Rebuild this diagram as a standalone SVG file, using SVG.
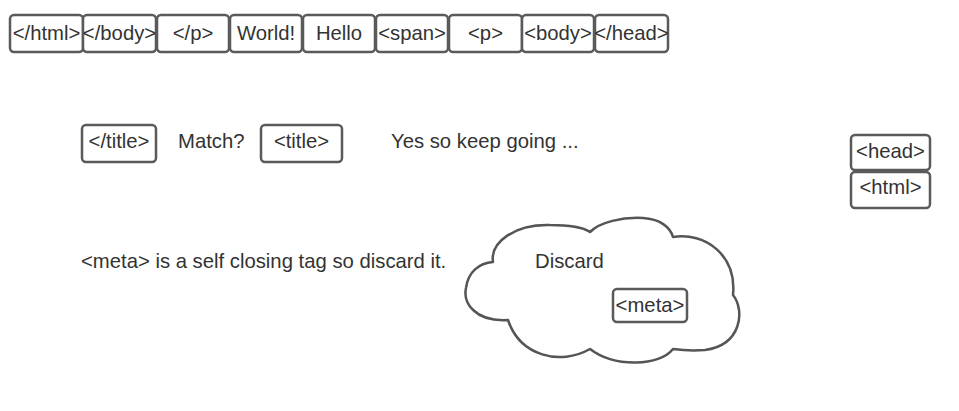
<svg xmlns="http://www.w3.org/2000/svg" width="959" height="411" viewBox="0 0 959 411">
<style>
.box{fill:#fff;stroke:#5a5a5a;stroke-width:2.5;}
.t{font-family:"Liberation Sans",Arial,sans-serif;font-size:20.3px;fill:#333;}
.c{text-anchor:middle;}
.cloud{fill:#fff;stroke:#555;stroke-width:2.5;stroke-linejoin:round;}
</style>
<rect width="959" height="411" fill="#fff"/>
<g id="stack-top">
<g id="n1"><rect class="box" x="10" y="15" width="73" height="37" rx="4"/><text class="t c" x="46.5" y="40">&lt;/html&gt;</text></g>
<g id="n2"><rect class="box" x="83" y="15" width="73" height="37" rx="4"/><text class="t c" x="119.5" y="40">&lt;/body&gt;</text></g>
<g id="n3"><rect class="box" x="157" y="15" width="72" height="37" rx="4"/><text class="t c" x="193" y="40">&lt;/p&gt;</text></g>
<g id="n4"><rect class="box" x="230" y="15" width="72" height="37" rx="4"/><text class="t c" x="266" y="40">World!</text></g>
<g id="n5"><rect class="box" x="303" y="15" width="72" height="37" rx="4"/><text class="t c" x="339" y="40">Hello</text></g>
<g id="n6"><rect class="box" x="376" y="15" width="72" height="37" rx="4"/><text class="t c" x="412" y="40">&lt;span&gt;</text></g>
<g id="n7"><rect class="box" x="449" y="15" width="73" height="37" rx="4"/><text class="t c" x="485.5" y="40">&lt;p&gt;</text></g>
<g id="n8"><rect class="box" x="522" y="15" width="72" height="37" rx="4"/><text class="t c" x="558" y="40">&lt;body&gt;</text></g>
<g id="n9"><rect class="box" x="595" y="15" width="73" height="37" rx="4"/><text class="t c" x="631.5" y="40">&lt;/head&gt;</text></g>
</g>
<g id="close-title"><rect class="box" x="82" y="125" width="74" height="37" rx="4"/><text class="t c" x="119" y="148">&lt;/title&gt;</text></g>
<g id="match"><text class="t" x="178" y="148">Match?</text></g>
<g id="open-title"><rect class="box" x="261" y="125" width="81" height="37" rx="4"/><text class="t c" x="301.5" y="148">&lt;title&gt;</text></g>
<g id="yes"><text class="t" x="391" y="148">Yes so keep going ...</text></g>
<g id="head"><rect class="box" x="851" y="135" width="79" height="35" rx="4"/><text class="t c" x="890.5" y="158">&lt;head&gt;</text></g>
<g id="html"><rect class="box" x="851" y="172" width="79" height="36" rx="4"/><text class="t c" x="890.5" y="194">&lt;html&gt;</text></g>
<g id="meta-note"><text class="t" x="81" y="268">&lt;meta&gt; is a self closing tag so discard it.</text></g>
<g id="cloud">
<path class="cloud" d="M493,262 C490,242 515,224 550,225 C570,225 584,228 590,232 C600,222 622,217 643,218 C660,219 670,227 673,237 C705,232 737,255 733,295 C745,310 742,345 705,350 C692,351 680,350 673,349 C660,366 615,368 590,349 C560,366 520,356 508,320 C474,322 463,302 466,288 C468,272 479,263 493,262 Z"/>
<text class="t" x="535" y="268">Discard</text>
</g>
<g id="meta"><rect class="box" x="613" y="289" width="74" height="33" rx="4"/><text class="t c" x="650" y="312">&lt;meta&gt;</text></g>
<g id="connectors"></g>
</svg>
